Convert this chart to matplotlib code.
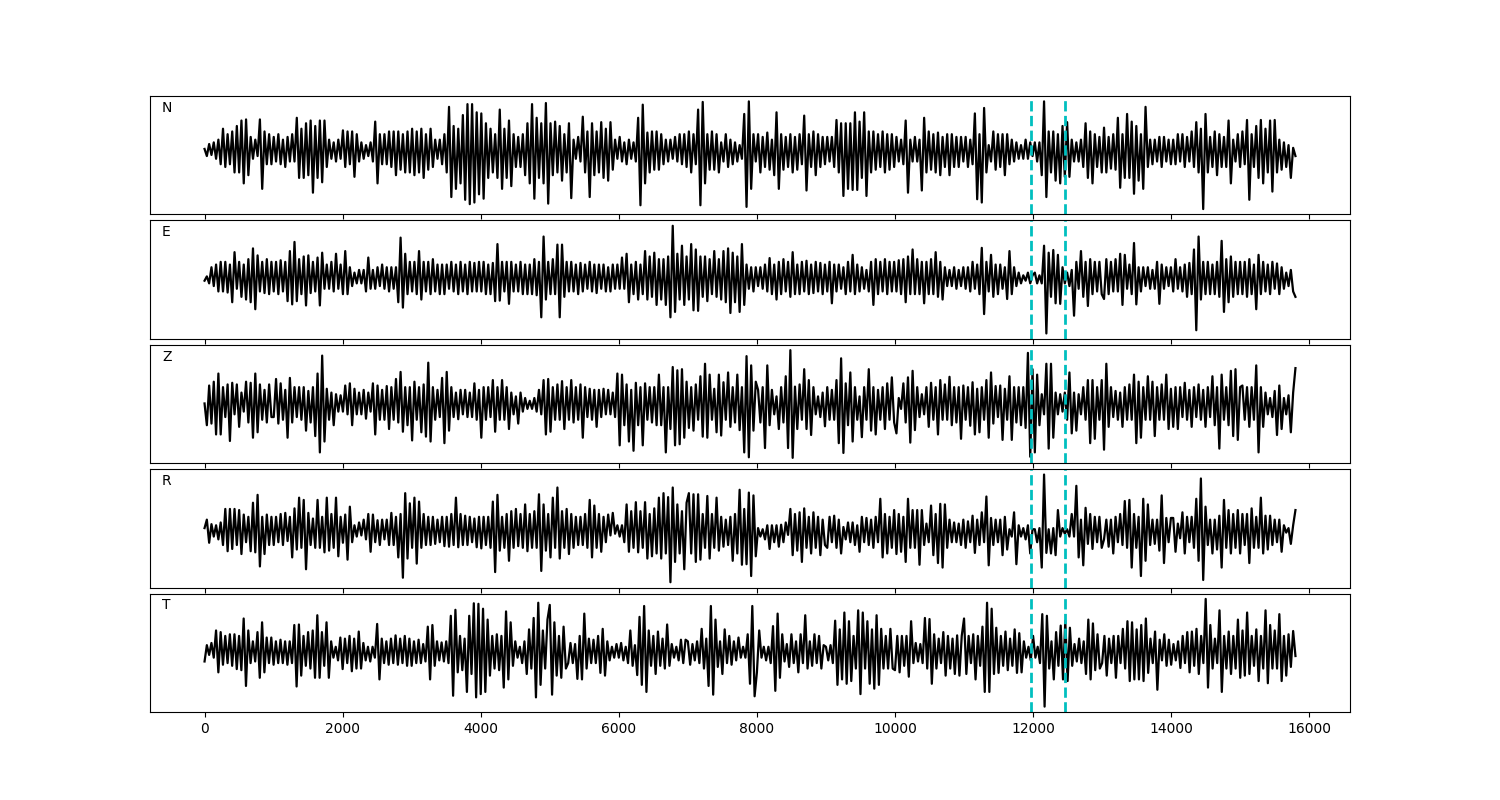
import numpy as np
import matplotlib
matplotlib.use("Agg")
import matplotlib.pyplot as plt

# record length (samples) and picks
duration = 15800
pick_lines = [11970, 12465]
channels = ["N", "E", "Z", "R", "T"]

# peak values (relative amplitude), one row ~ 1000 samples
trace_n = [
    0.3,-1,1.2,-0.8,1.5,-1.5,2,-2.5,4,-3,3,-2.5,3.5,-4,4.5,-4,5.5,-6,5.7,-4.5,2.5,-1.5,2,-1,5.7,-7,3.5,-2.5,3,-2.5,
    2.5,-2,3,-2.5,2,-3,2.5,-2,3,-2,6,-5,4,-5,5,-4.5,5.5,-7.7,4.5,-5,5.5,-5.8,5.5,-3,2,-1.5,1.5,-2,2,-1.5,
    3.7,-3,3.5,-2.5,3.5,-4.8,3,-2,1.5,-1.5,1,-1,1.5,-2,5.3,-6,3,-2.5,3,-2.5,3.5,-3,3.5,-4.5,3.5,-3.5,3,-4,3.5,-4,
    4,-4.5,3.5,-4,4,-5,3,-3.5,4,-3,2,-1.5,2,-2.5,3,-4,8,-8.5,4.5,-7,4,-6,6.5,-9,8.5,-9.8,8.5,-9.5,7,-8,
    6.8,-8.8,5,-5,4,-4,3,-5,7.5,-7,4,-5,5.5,-6.5,3,-3,2.5,-3,3,-4.5,5,-6,8.5,-8.8,6,-5,5,-6,8.7,-9.7,
    5,-4.5,5.3,-4,4.5,-5.5,3,-4,5,-8.7,2,-1.5,2.5,-2,6.2,-4,3.5,-8.5,5,-4.5,3.5,-4,5.2,-5,4,-5.5,5.2,-3.5,2,-1.5,
    2.5,-2,1.5,-2.5,2,-1.5,1.5,-2,6,-10,8.4,-6,3.3,-4,3.5,-3.5,3.5,-3.5,3,-2.5,2,-2,2,-1.5,2.5,-2,3,-2.5,3,-3,
    3.5,-4,3,-2.5,7.5,-10,8.9,-6,3,-3.5,3.5,-3.5,3,-4,1.5,-2,3,-3,2,-2.5,1.5,-2,1,-1.5,6.7,-10.3,9,-7,3,-2,
    3,-4,2.5,-3,3.3,-3.5,2,-4.5,7,-7,3,-3.5,2.5,-3,3,-4,2.5,-3.5,3,-2.5,6.4,-7.3,3,-3,3.5,-4.5,3,-3,2.5,-2.5,
    2.5,-2,2.5,-3,5.6,-4,5,-8.3,5,-7,5,-7.2,7,-7.2,5.3,-5,7,-8.3,3.5,-4,3.5,-3.5,3,-3,3.5,-4,3,-3.5,3,-3,
    2.5,-2,2,-2.5,5.5,-7.7,2,-2,2.5,-2,2,-7.3,6,-4,3.5,-3.5,3,-4,3.3,-4.5,2.5,-3,3,-4.5,3,-3,2.5,-3,2.5,-2,
    2.5,-3,2,-2.5,6.8,-8.9,3,-9.5,7.8,-4,1,-2,3.5,-3.5,3,-3,3,-4.5,3,-2.5,2,-2,1.5,-1.5,1,-1.5,2,-1.5,1.5,-1,
    1.5,-2,1.5,-4.5,9,-8.5,3.5,-4,3.5,-5.5,3,-6,4.5,-4.8,5.2,-4.8,2,-2,1.5,-2,2,-3,5,-5,3.5,-6,3,-3,2.5,-4,
    4.2,-4,2.5,-3.3,3,-3.5,6,-6.8,3,-5,6.7,-5,5.3,-7.9,4.5,-5.5,3,-7,8,-3,2,-2.5,2,-2,2.5,-3,2.5,-2,2,-2.5,
    2,-2.5,3,-2,3,-3,2.5,-2,3.5,-3,5.2,-4,4,-10.7,6.7,-4,2.5,-3,3.5,-4.5,3,-3,2.5,-3,5.5,-6,2,-2,3,-3,
    3.5,-2.5,5.6,-9,3,-3,4.5,-5,5.6,-6,4,-4,5.5,-7.5,5.6,-4,2,-3.5,1.5,-3,1,-5,0.5,-1,
]

trace_e = [
    -0.5,0.3,-1,2,-1.5,2.5,-2.5,3,-2.5,3,-2.7,2.5,-4.5,4.8,-2,3,-3.5,2.5,-4,3.5,-4.5,5.5,-5.8,4.2,-2.5,3,-2.8,3.5,-3,3,
    -2.5,3,-3,3.3,-2.5,3,-4.3,5,-4.9,6.7,-4.3,3.5,-3,4,-5.1,4.2,-2.8,3,-2.5,3.8,-5.1,4.7,-2,2.5,-2,3,-2.5,4.5,-2,2.5,
    -3,5,-3,2,-1.5,1,-1,1.5,-1,1.5,-2.5,3.8,-2,1.5,-2,2,-1.5,2.5,-2,2,-2.5,2,-2,2,-4.5,7.5,-5.5,4.5,-3,3,
    -2.5,3,-3,5,-4,3,-2.5,3,-3,3.5,-2.5,2.5,-3,2.5,-3,2.5,-2,3,-2.5,2.5,-3,3,-2.5,2.5,-3,3,-2.5,2.8,-2.5,3,
    -2.5,3,-3,2.5,-3,2.8,-4.3,6.3,-4.2,3,-2.5,3,-4.8,3,-2.5,2.5,-2.5,3,-3,2.5,-3,2.5,-3,3.5,-3.2,3,-7.3,7.7,-4,3,
    -3,3.5,-3,6.2,-7.3,6.2,-3.5,3,-2.5,3,-2.5,2.5,-3,2.8,-2.5,2.5,-2,3,-2.5,2.5,-2.8,2.5,-2,2.5,-2.5,2,-2.5,2.5,-2,2.5,
    -2,3.8,-2,4.5,-4.5,2.5,-3,3,-4,2.5,-3,5,-4,4,-3.5,4.7,-5,3.5,-4,3.5,-5,4,-7.3,9.7,-6.3,4.5,-4,6,-5,4,
    -4,6.3,-6,5.3,-6.1,4,-3.5,4,-4.3,3.5,-3,5,-3.5,3.5,-4,5,-4.5,5.5,-6.5,4.7,-4.5,4,-6.3,6.3,-5,2.5,-2,2,-2.5,2,
    -1.5,2,-2,2.5,-2.5,3.7,-3,2.5,-4,3,-3,3.5,-2.5,3,-3.5,4.8,-3,2.5,-3,3,-2.5,3.2,-3,2.5,-2.8,3,-2.5,2.8,-3,2.5,
    -2.5,3,-4.7,2.5,-2.5,2.5,-2,2,-3,3,-2.5,4.3,-3,2.5,-2.5,2,-2,1.5,-2.5,3,-5,3.5,-3,3,-2.5,3.5,-3,3,-2.5,3,
    -2.5,3.3,-3,3.5,-4.5,4,-3,5.3,-3,3.5,-3,3,-4.7,3,-3,3.5,-3,4.8,-3.5,3,-4,2,-1.5,1.5,-1.5,2,-2,1.5,-1.5,2,
    -2,2,-2.5,3,-2,2.5,-3,5.6,-6.7,3,-2.5,4.3,-3.5,2.5,-3,2.5,-2,2,-3.9,5,-3,2,-1.5,1,-1,0.5,-0.5,1,-1,0.5,
    1,-1,0.5,-1,6,-10.3,4.7,-3.5,5.2,-4.7,4.3,-4.8,2,-1,1,-1.5,1.5,-7,3,-2,5,-3.5,3,-5.2,3.5,-3,3,-2.5,3,-3,
    -3.9,3.5,-3,3,-2.5,3.5,-2.5,4.5,-5,4.3,-2,2.5,-3,6.5,-4.9,2,-2.5,2,-1.5,2,-2,1.5,-2,3,-4.8,2.5,-2,2,-1.5,2,
    -2.5,3.5,-2,2,-2.5,2.5,-3.5,2.8,-3,5.3,-9.7,7.7,-4,3,-3,3,-3,2.5,-3,3,-3.5,6.9,-6.3,3.5,-4.5,4,-3.5,3,-3,3,
    -3,3,-3.5,3.5,-3,2.5,-5.8,4.3,-3,3,-2.5,2.5,-3,3,-2,2.7,-3,2,-2,1,-1.5,1.5,-2.5,-3.5,
]

trace_z = [
    0,-4,3.3,-3.7,4,-5.7,5.5,-5.7,3,-2.5,3.5,-6.9,3.8,-2,3.5,-4.3,2,-1.5,4,-3.5,3.8,-6.3,5.5,-5.3,3.5,-3,2.5,-3.5,3.5,-2.5,
    -2.5,4.5,-3.7,3.7,-3,2.5,-6.3,4.7,-3.5,3,-2.5,3,-3,3,-5,2.3,-3.5,3,-6,5.5,-9,8.8,-7,2.7,-3,2,-4,1.7,-1.5,1.5,
    -1.5,3.3,-2,3.7,-4,2.7,-2,2,-2,2.5,-2.8,2,-1.5,3.7,-5.7,3.3,-3,2.5,-3,3.2,-4.7,3,-3,4.5,-3.5,5.8,-5.2,3,-4,3,
    -6.8,4,-3,3,-5.3,3.5,-6.1,7.5,-7,3,-3,2.5,-2.5,4.7,-7.3,5.8,-5,3,-2.5,2,-2.9,2.5,-2,2.5,-2.5,2,-2.5,3.7,-3,2.5,
    -6.3,3,-3,3,-2.5,4.3,-5.2,3,-3,4.3,-3,3,-4.7,2,-2,1.3,-3.7,2,-1.5,1,-1,0.5,-1,1,-1.5,2.5,-2,4.3,-5.7,4.5,
    -5.2,3,-3,3.5,-3,4.1,-4.7,3,-3,4.3,-3.5,3,-3,3.5,-6.3,3,-2.5,2.7,-3,2.5,-4.3,2.5,-2.5,2.7,-2,2.5,-2,2,-2.5,5.5,
    -7.7,5.3,-4,3.5,-7,2.5,-8.7,3.8,-4,3,-7.7,3.7,-3,3,-3.5,3,-4,5.3,-4,3,-9,3,-4.7,6.7,-7.7,6.1,-7.5,6.3,-6.3,4,
    -4.5,3,-5,3.5,-3,5,-6.1,7.3,-6.3,5.3,-3,2.7,-5.3,5.3,-5.9,3.9,-3,5.7,-4.3,3,-3.5,5.3,-4.9,3,-9,8.7,-9.9,7,-5,4,
    2.5,-3.5,3,-8.2,7,-4,2.5,-2,1.3,-4.7,3,-3.5,5,-8.2,9.8,-10,3.1,-4.7,3.5,-3,6.3,-4.7,4.3,-5.8,3,-2,1.3,-2.5,2,-4.2,
    3,-3,2.5,-3,4.3,-7.3,8.3,-9.1,3.7,-4,5.7,-7,3,-3,1.3,-6.2,3,-3,6.3,-5,3,-5.7,2.5,-3,3,-4.7,3.7,-3,4.8,-3.5,
    -5.5,1,-1,3.7,-3.5,4.8,-7.2,6,-4.9,3,-2.5,1.7,-2,3,-4.3,3.8,-3,3,-5.7,4.3,-3,3.5,-3,4.9,-4,3,-3.5,3,-6.5,3.3,
    -3,3,-4.1,3.9,-5.7,2.7,-5.3,3,-3,4.3,-6.3,5.7,-3.7,3.2,-2.5,3.3,-6.7,2.7,-3,5,-6.7,3,-3.5,3,-4,3,-4.5,9.3,-9.8,6.3,
    -9,5.3,-4,1.7,-2,7.3,-8.3,7.3,-6.3,2,-2,1.7,-1.5,2,-3,5.7,-5.5,2,-5,1.7,-2,3,-3,4.3,-7.3,4.3,-6.5,3,-3,4.3,
    -8.5,7.3,-4.3,3,-2.5,2.3,-3,2,-4.3,3,-3,3.5,-3,5.3,-7.3,4,-6.3,3,-3,5,-3,4,-6,3,-3,3.5,-3,5.3,-4.7,2.7,
    -4.3,3,-4.7,3,-2.5,3.8,-3,2.5,-4.3,3,-2.5,3.5,-3,2.5,-4.3,3,-2.5,5,-4,3,-8.3,5.3,-3,3,-4,6,-6,6.3,-6.7,3,
    3.3,-3,3,-4.3,3,-3,7,-9,3,-4.3,2,-2,1,-2.5,2.3,-5.8,3.3,-4.7,1,-2,1.5,-5.3,2,6.5,
]

trace_r = [
    0.5,2,-2.1,1.2,-1,1,-1.5,1.5,-2.5,3.9,-3.6,3.9,-3.2,3.9,-2.5,3.7,-4.1,2.9,-2,2.5,-3.6,5,-3.8,6.4,-6.3,2.5,-4.1,2.9,-2.5,2.5,
    -2.5,2.5,-2,3,-2.5,3.2,-1.8,2.5,-4.7,4,-3.3,5.9,-3,5.5,-6.8,3.2,-2.5,2.2,-3,5.5,-3,2.5,-3.8,5.9,-3.5,3,-3,5.9,-4.5,2.5,
    -2.1,2.9,-5.1,4.3,-2,1,-1,1.5,-0.8,2,-1.5,3,-3.7,2.9,-2,1.9,-2.5,2,-1.5,2,-2.5,3.2,-2.5,2.5,-4.7,3,-8.3,6.7,-4.9,4.9,
    -3,5.9,-5.8,5.2,-3,3,-2.5,2.5,-2.5,2.5,-2.3,2,-2,2.5,-2.7,2.5,-2.8,3,-2.5,5.9,-2.9,3,-2.5,2.7,-2.5,2.5,-2,2.2,-2.9,2.5,
    -3.1,2.5,-2.5,2.5,-3,5.2,-7.3,6.4,-3.5,2.5,-3,3,-5.3,3.5,-3,3.9,-2.7,3,-3,4.7,-3.6,3,-3,3.5,-3,6.5,-7.1,4.7,-3.5,3,
    -4.7,5.9,-3,7.7,-4.9,3.5,-3,3.9,-4.1,3,-3,2.5,-2.5,2.5,-2.5,3,-3,5.5,-4.7,4.5,-3,3,-3.7,2.5,-2,2.9,-0.8,3.2,-0.5,1,
    -1,1,-2,4.7,-3.7,3.5,-3,5.1,-3.8,3.5,-3,5.1,-4.9,3,-4.5,4,-4,5.9,-4.9,6.7,-4,6,-9.1,7.7,-5.5,4.7,-4,3.5,-6.8,5,
    6.7,-4,6.5,-5.5,6.5,-5.1,3,-3,6.2,-4.9,3,-3,5.9,-3.5,2.5,-2.8,2,-2.5,2.5,-5.3,3,-4,7.3,-6,3.9,-5.9,6.8,-8,6.3,-4.5,
    0.5,-1,0.3,-1.5,1,-3.2,1,-2,1,-2.8,1.1,-2,1.5,-0.7,3.9,-4.3,3,-3.5,3.3,-5.5,4,-3,2.5,-4,3.3,-3,2.5,-4.3,2,-2.5,
    -3,2.5,-2,2.7,-3,2,-4,0.7,-1.5,1.5,-2,1.5,-2.5,1,-3.7,2.5,-2,2.3,-2.5,2,-3,2.5,-2,5.7,-4.7,3,-4,2.5,-3,3.7,
    -4.1,3,-3.7,2.5,-5.5,5.7,-3,3.7,-3,3.7,-6,3.7,-2.5,1.3,-2,4.5,-4.3,3,-5.7,4.8,-6.5,4.7,-3,2,-2,1.5,-2,1.3,-2.5,2,
    -3,1.7,-2,2.7,-3.9,2,-2.5,3.3,-2,6.1,-6.1,2.3,-2.5,2,-2,2,-4.3,2.5,-3.3,0.3,-1,3.3,-5.9,1,-1,0.5,-1.5,1,-4,0.3,
    0.3,-2,0.5,-6.5,10,-3.9,0.3,-4,0.5,-4.3,3.7,-1,0.5,-0.5,0.3,-1,3,-1,8,-4.7,2,-6.1,4.1,-2.3,3,-3.2,2.5,-2,2.5,-3,
    -1.5,2,-2.8,2,-4,2.5,-2,3,-2.5,5.3,-3,5.5,-6.5,3,-3,2.5,-8,5.7,-5.3,4.7,-2.5,2,-2.3,2,-3.5,6.3,-5.7,2.3,-2,2.3,
    2.3,-3.7,1.3,-1.3,3.3,-4,2.5,-2,2.5,-3,5.7,-5.3,9.3,-8.7,4.3,-2.5,2,-4,2,-3.3,2.7,-6.5,5.5,-3,3.7,-4,3,-3,3.7,-4,
    3,-2.5,3,-5.7,4,-3,2.5,-3,5.9,-4,2.7,-3.3,2.7,-2.5,2,-2,2,-3.7,1,-0.3,0.5,-2.3,1,3.7,
]

trace_t = [
    -1.7,1.3,-0.5,1.7,-1,4,-3.7,3.7,-2.3,3,-2,3.3,-2.5,3.3,-3.1,3,-3.3,6.2,-6.2,4,-2,2,-1.7,3.7,-4.7,5.5,-3.7,2.7,-2,2.7,
    -2.3,2,-2,2.3,-2,2,-2.3,2,-2,5,-6.3,5.1,-4.3,3,-2.5,3.7,-3,4,-4.7,6.8,-4.7,3.7,-2.5,5.5,-4.7,2,-1,1,-1.5,2.7,
    -3.1,2.5,-2,3,-3.5,2.5,-3,3.8,-3,1.7,-1.5,1,-1.7,1,-1,5.2,-5,2.5,-2,2,-2.3,2.5,-2,3.1,-2.3,2.5,-2,3,-2.5,2.5,
    -2.5,2,-2,2.3,-2,1.5,-1.7,4.7,-5,5,-2.5,2,-1.5,1.8,-1.7,2,-2,6.7,-8,7.8,-3.7,3,-3.3,2.5,-7.3,6.7,-4,9,-8.3,8.9,
    -7.7,8,-7.3,6,-4.3,3,-3,3.3,-3.3,3,-6.5,7.5,-5,5.5,-2.5,2,-1,1,-2,2,-4,4.2,-3,6.3,-8.3,9.1,-6,4,-3,6,
    8.7,-7.8,5.5,-4.3,3,-4.7,4.7,-3,-2,1.7,-2,1.5,-4.9,3,-5,7.1,-3,2.5,-2,2.3,-2,3,-3.8,4.3,-4.3,2,-1.5,1,-1,1.5,
    -1,1.7,-1.5,1,-2,4,-2.5,1.3,-4.2,6.5,-6,8.5,-7.3,4,-2.5,3,-4,3.8,-2.5,2.5,-3,5.1,-2.5,1.5,-1,1,-1.5,2.3,-2,2.3,
    2,-2.3,1.5,-1.5,2,-2,4.3,-3,2.5,-6.2,8.5,-7.8,6,-2.7,2,-4,4.2,-2,3,-2.3,2,-1.5,2.7,-1,1,-1,3.3,-5.8,8.5,-8.1,
    -3.7,4,-1,1,-1.5,1,-2,4.8,-7.1,7.1,-4.7,3.3,-1.7,1.5,-2.7,3.3,-2,2,-3.7,3.3,-2,6.8,-3,2,-2.5,3.3,-2,3,-3,1.3,
    1,-1.5,1.3,-2,5.8,-6,4.2,-5,7.3,-5.8,5.7,-5.3,3,-3,7.7,-7.7,7.3,-3,5.7,-5.8,4.2,-6.7,6.8,-6,4.3,-3,3,-3,4.3,-3,
    -3.3,3,-3.7,3,-2.5,3,-4.5,5.7,-2,1.7,-1.7,1.5,-2,6.3,-3,6.1,-5.8,3.3,-3,2.5,-2,3.7,-4.3,3,-3,2.5,-4,3.1,-4.3,3,
    6.2,-4,3,-2,3.3,-5,3,-2.5,4.7,-7.3,9.1,-7.3,8,-4,4.5,-3.8,3,-2.5,3.8,-3.3,2.5,-2.5,4.2,-3.8,3.5,-3.7,2,-1,1,-1.5,
    3,-1,1,-2,7,-10,6.7,-3,2,-5,3.7,-2.5,4.9,-5,5.8,-5.3,4.5,-2.5,1.5,-1.7,2.5,-2,2,-4,6,-5,5.3,-3.3,3.3,-3,
    -2,3,-4.3,2.5,-2,3,-4.7,3,-2,4.3,-3,5.7,-5.3,5.5,-5,4.2,-5,5,-5.3,6.2,-3.8,2.5,-2,3.8,-6.9,2.3,-1.5,3.3,-2.5,2.3,
    -2.3,1.5,-1.5,2,-2.9,3,-2,3.7,-3.7,3.8,-2.5,4.3,-4,3,-2,9.8,-6.5,5,-3,2.5,-2,7.7,-7.3,3,-3,3.8,-4,3,-3,6,
    -4.7,4,-4.3,7.3,-4,3,-2.5,4.2,-5.3,3,-3,7.7,-5.7,5,-3,4,-3,7,-5.3,3,-4.3,3.3,-2.7,3.9,-0.7,
]

traces = [trace_n, trace_e, trace_z, trace_r, trace_t]

fig, axes = plt.subplots(5, 1, sharex=True, figsize=(15, 8), dpi=100)
plt.subplots_adjust(left=0.1, right=0.9, top=0.88, bottom=0.11, hspace=0.05)

for ax, name, tr in zip(axes, channels, traces):
    tr = np.asarray(tr)
    t = np.linspace(0, duration, len(tr))
    ax.plot(t, tr, color="k", lw=1.6)
    for p in pick_lines:
        ax.axvline(p, color="c", ls="--", lw=2)
    ax.set_yticks([])
    ax.text(0.01, 0.9, name, transform=ax.transAxes, va="center", fontsize=10)

fig.savefig("out.png")
